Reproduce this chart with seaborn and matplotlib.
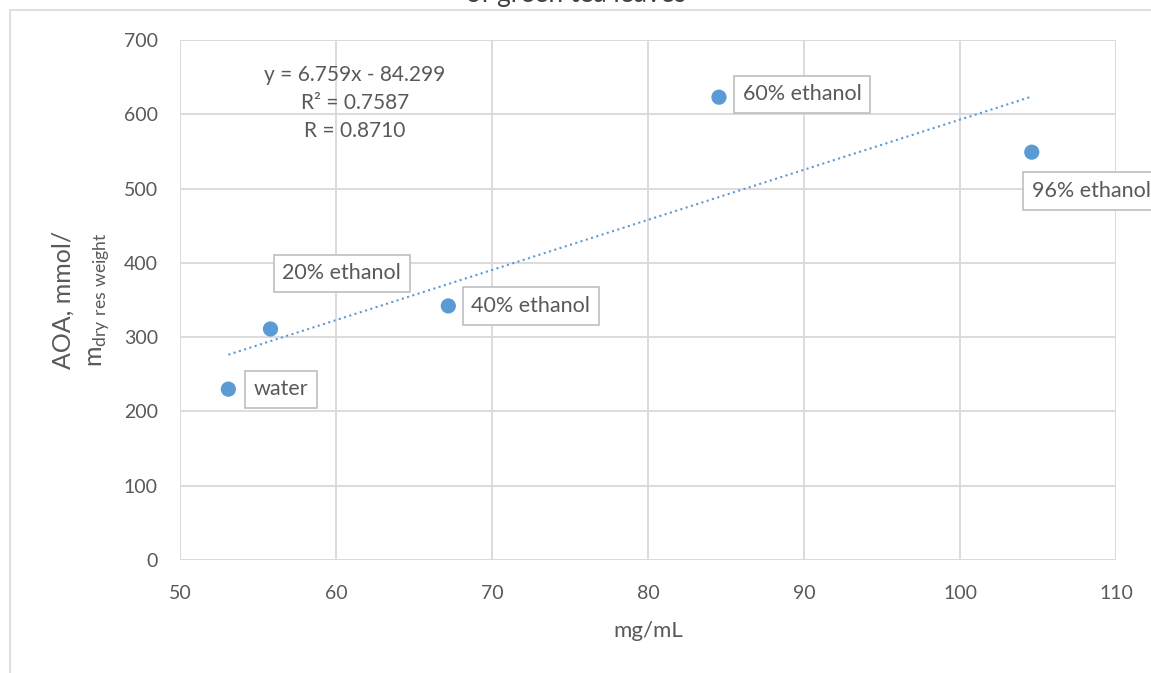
import numpy as np
import pandas as pd
import seaborn as sns
from matplotlib import pyplot as plt
from matplotlib.patches import Rectangle

# dados
conc = [53.1, 55.8, 67.2, 84.55, 104.6]
aoa = [230, 311, 342, 623, 549]
rotulos = ['water', '20% ethanol', '40% ethanol', '60% ethanol', '96% ethanol']
# deslocamento dos rotulos (pontos)
desloc = [(18, 0), (8.5, 40), (16.5, 0), (17, 2), (0, -28)]

equacao = ['y = 6.759x - 84.299', 'R² = 0.7587', 'R = 0.8710']

df = pd.DataFrame({'mg': conc, 'aoa': aoa, 'rotulo': rotulos})

sns.set_style('whitegrid')
plt.rcParams['font.family'] = ['Lato', 'DejaVu Sans']

cor = '#5b9bd5'
cinza_txt = '#595959'

fig = plt.figure(figsize=(11.51, 6.73), dpi=100)
ax = fig.add_axes([180 / 1151, 1 - 560 / 673, 936 / 1151, 520 / 673])

# borda externa do grafico
fig.patches.append(Rectangle((10 / 1151, -0.1), 1.2, 1.1 - 10 / 673,
                             transform=fig.transFigure, fill=False,
                             edgecolor='#d9d9d9', lw=1.2))

sns.regplot(data=df, x='mg', y='aoa', scatter=False, ci=None, ax=ax,
            line_kws={'color': cor, 'linestyle': ':', 'lw': 1.5})
sns.scatterplot(data=df, x='mg', y='aoa', color=cor, s=120, ax=ax,
                edgecolor='none', zorder=5)

for i in range(len(conc)):
    ax.annotate(rotulos[i], (conc[i], aoa[i]), xytext=desloc[i],
                textcoords='offset points', ha='left', va='center',
                fontsize=15.5, color=cinza_txt, annotation_clip=False,
                bbox=dict(boxstyle='square,pad=0.4', fc='white',
                          ec='#bfbfbf', lw=1.2), zorder=6)

for j, linha in enumerate(equacao):
    ax.text(355 / 1151, 1 - (75 + j * 28) / 673, linha, transform=fig.transFigure,
            ha='center', va='center', fontsize=15, color=cinza_txt)

ax.set_xlim(50, 110)
ax.set_ylim(0, 700)
ax.set_xticks(np.arange(50, 111, 10))
ax.set_yticks(np.arange(0, 701, 100))
ax.grid(color='#d9d9d9', lw=1.3)
for s in ax.spines.values():
    s.set_visible(False)
ax.tick_params(length=0, labelsize=14, labelcolor=cinza_txt)
ax.tick_params(axis='x', pad=18)
ax.tick_params(axis='y', pad=16)

ax.set_xlabel('mg/mL', fontsize=16, color=cinza_txt, labelpad=14)
ax.set_ylabel('')
fig.text(63 / 1151, 1 - 300 / 673, 'AOA, mmol/', rotation=90, ha='center',
         va='center', fontsize=18, color=cinza_txt)
fig.text(100 / 1151, 1 - 300 / 673, r'm$_\mathregular{dry\ res\ weight}$',
         rotation=90, ha='center', va='center', fontsize=18, color=cinza_txt)

# titulo cortado no topo
fig.text(0.5, 1 - 2 / 673, 'of green tea leaves', ha='center', va='baseline',
         fontsize=19, color='#404040')

plt.savefig('out.png', dpi=100)
